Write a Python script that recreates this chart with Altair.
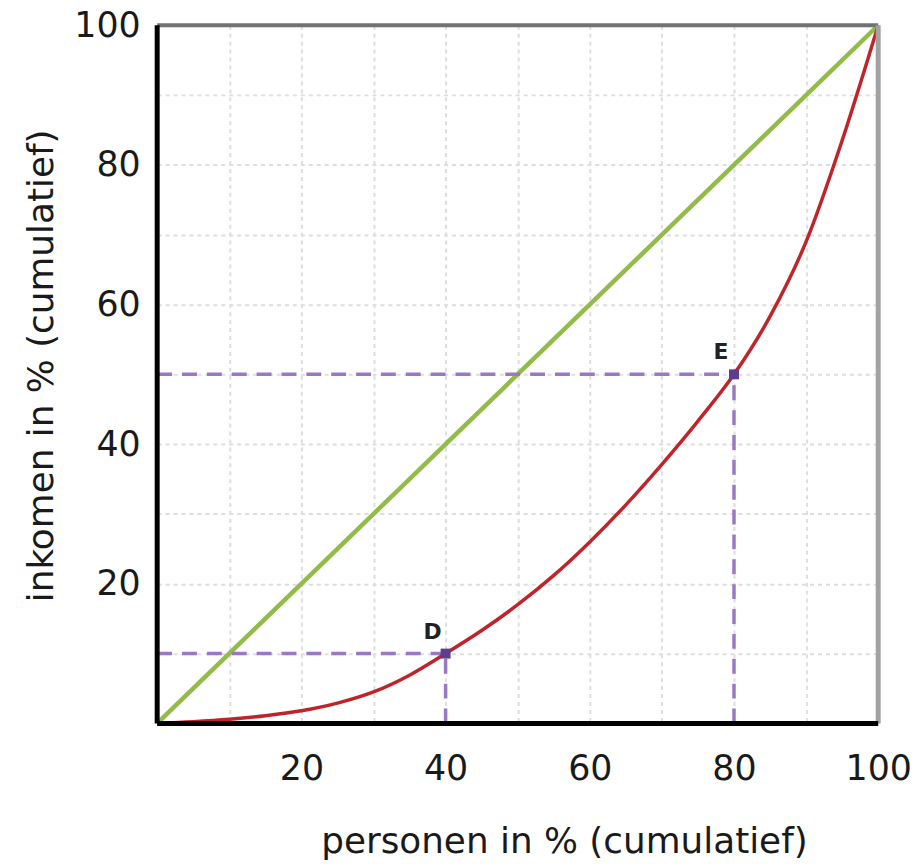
import altair as alt
import pandas as pd

# Lorenz curve
curve_x = [0, 5, 10, 15, 20, 25, 30, 35, 40, 45, 50, 55, 60, 65, 70, 75, 80, 85, 90, 95, 100]
curve_y = [0, 0.25, 0.6, 1.1, 1.8, 2.9, 4.5, 6.9, 10, 13.3, 17.0, 21.2, 26.0, 31.3, 37.1, 43.3, 50, 58.3, 69, 83.5, 100]

# line of equality
eq_x = [0, 100]
eq_y = [0, 100]

# dashed guide lines
g_x = [0, 40, 0, 80]
g_x2 = [40, 40, 80, 80]
g_y = [10, 0, 50, 0]
g_y2 = [10, 10, 50, 50]

# points
pt_x = [40, 80]
pt_y = [10, 50]
pt_lab = ["D", "E"]

# frame
top_x, top_x2, top_y = [0], [100], [100]
right_x, right_y, right_y2 = [100], [0], [100]
bottom_x, bottom_x2, bottom_y = [0], [100], [0]
left_x, left_y, left_y2 = [0], [0], [100]

grid_vals = [10, 20, 30, 40, 50, 60, 70, 80, 90, 100]

FONT = "DejaVu Sans"

xs = alt.Scale(domain=[0, 100], nice=False, zero=False)
ys = alt.Scale(domain=[0, 100], nice=False, zero=False)

lab_expr = "(datum.value % 20 == 0 && datum.value > 0) ? datum.label : ''"

x_axis = alt.Axis(
    values=grid_vals, labelExpr=lab_expr, title="personen in % (cumulatief)",
    grid=True, gridColor="#dedede", gridDash=[4, 4], gridWidth=2,
    ticks=False, tickSize=0, domain=False,
    labelFont=FONT, labelFontSize=35, labelColor="#1a1a1a", labelPadding=56,
    labelBaseline="alphabetic", labelFlush=False, labelOverlap=False,
    titleFont=FONT, titleFontSize=36, titleFontWeight="normal", titleColor="#1a1a1a",
    titleX=409, titleY=130, titleBaseline="alphabetic", titleAlign="center",
)
y_axis = alt.Axis(
    values=grid_vals, labelExpr=lab_expr, title="inkomen in % (cumulatief)",
    grid=True, gridColor="#dedede", gridDash=[4, 4], gridWidth=2,
    ticks=False, tickSize=0, domain=False,
    labelFont=FONT, labelFontSize=35, labelColor="#1a1a1a", labelPadding=17,
    labelBaseline="middle", labelFlush=False, labelOverlap=False,
    titleFont=FONT, titleFontSize=36, titleFontWeight="normal", titleColor="#1a1a1a",
    titleX=-105, titleY=342, titleAngle=270, titleBaseline="alphabetic", titleAlign="center",
)

curve_df = pd.DataFrame({"x": curve_x, "y": curve_y})
eq_df = pd.DataFrame({"x": eq_x, "y": eq_y})
guide_df = pd.DataFrame({"x": g_x, "x2": g_x2, "y": g_y, "y2": g_y2})
pt_df = pd.DataFrame({"x": pt_x, "y": pt_y, "lab": pt_lab})
top_df = pd.DataFrame({"x": top_x, "x2": top_x2, "y": top_y})
right_df = pd.DataFrame({"x": right_x, "y": right_y, "y2": right_y2})
bottom_df = pd.DataFrame({"x": bottom_x, "x2": bottom_x2, "y": bottom_y})
left_df = pd.DataFrame({"x": left_x, "y": left_y, "y2": left_y2})

equality = alt.Chart(eq_df).mark_line(color="#93bb4a", strokeWidth=4.5).encode(
    x=alt.X("x:Q", scale=xs, axis=x_axis),
    y=alt.Y("y:Q", scale=ys, axis=y_axis),
)

guides = alt.Chart(guide_df).mark_rule(color="#9a78c8", strokeWidth=3.5, strokeDash=[15, 10]).encode(
    x="x:Q", x2="x2:Q", y="y:Q", y2="y2:Q"
)

curve = alt.Chart(curve_df).mark_line(color="#c0242a", strokeWidth=3.5, interpolate="monotone").encode(
    x="x:Q", y="y:Q"
)

points = alt.Chart(pt_df).mark_square(color="#5c3d8f", size=100, filled=True, opacity=1).encode(
    x="x:Q", y="y:Q"
)

labels = alt.Chart(pt_df).mark_text(
    font=FONT, fontSize=22, fontWeight="bold", color="#222222", dx=-13, dy=-22
).encode(x="x:Q", y="y:Q", text="lab:N")

top_border = alt.Chart(top_df).mark_rule(color="#727272", strokeWidth=4).encode(
    x="x:Q", x2="x2:Q", y="y:Q"
)
right_border = alt.Chart(right_df).mark_rule(color="#a2a2a2", strokeWidth=5).encode(
    x="x:Q", y="y:Q", y2="y2:Q"
)
bottom_border = alt.Chart(bottom_df).mark_rule(color="#000000", strokeWidth=5).encode(
    x="x:Q", x2="x2:Q", y="y:Q"
)
left_border = alt.Chart(left_df).mark_rule(color="#000000", strokeWidth=5).encode(
    x="x:Q", y="y:Q", y2="y2:Q"
)

chart = alt.layer(
    equality, guides, curve, points, labels, top_border, right_border, bottom_border, left_border
).properties(
    width=725, height=702,
    autosize=alt.AutoSizeParams(type="none"),
    padding={"left": 150, "top": 15, "right": 36, "bottom": 136},
).configure_view(stroke=None).configure(background="white")

chart.save("out.html", embed_options={"renderer": "svg", "actions": False})
